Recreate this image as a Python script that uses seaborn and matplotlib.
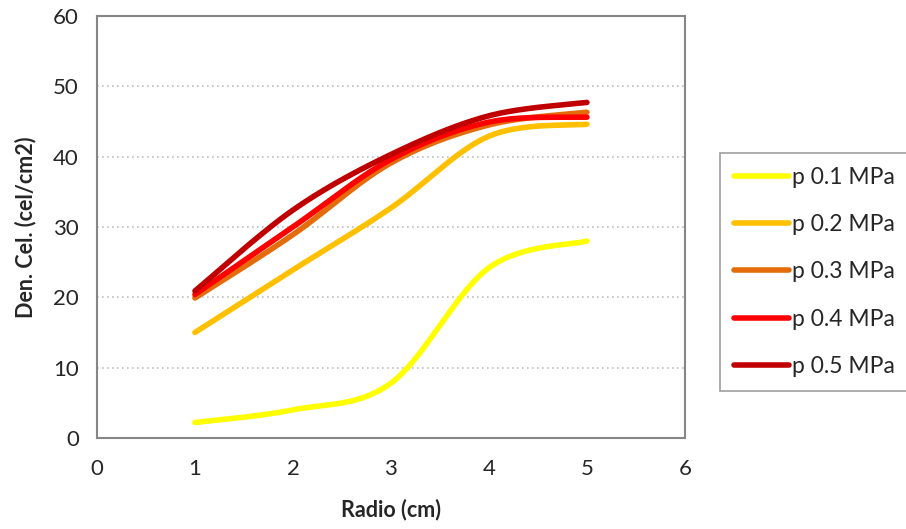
import numpy as np
import pandas as pd
import matplotlib
matplotlib.use("Agg")
import matplotlib.pyplot as plt
import seaborn as sns

# data
radio = [1, 2, 3, 4, 5]
p01 = [2.2, 4.0, 7.8, 24.2, 28.0]
p02 = [15.0, 23.9, 32.7, 42.9, 44.6]
p03 = [19.9, 28.9, 39.1, 44.5, 46.3]
p04 = [20.4, 30.0, 39.6, 44.9, 45.6]
p05 = [20.9, 32.4, 40.3, 45.8, 47.7]
labels = ["p 0.1 MPa", "p 0.2 MPa", "p 0.3 MPa", "p 0.4 MPa", "p 0.5 MPa"]
colors = ["#FFFF00", "#FFC000", "#E46C0A", "#FF0000", "#C00000"]


def smooth(x, y, n=40):
    # Excel-like smoothed line: cubic Bezier through the points
    x = np.asarray(x, float)
    y = np.asarray(y, float)
    px = np.concatenate([[x[0]], x, [x[-1]]])
    py = np.concatenate([[y[0]], y, [y[-1]]])
    xs, ys = [], []
    t = np.linspace(0, 1, n)
    for i in range(1, len(x)):
        p0 = np.array([px[i], py[i]])
        p3 = np.array([px[i + 1], py[i + 1]])
        c1 = p0 + (np.array([px[i + 1], py[i + 1]]) - np.array([px[i - 1], py[i - 1]])) / 6
        c2 = p3 - (np.array([px[i + 2], py[i + 2]]) - np.array([px[i], py[i]])) / 6
        b = ((1 - t) ** 3)[:, None] * p0 + (3 * (1 - t) ** 2 * t)[:, None] * c1 \
            + (3 * (1 - t) * t ** 2)[:, None] * c2 + (t ** 3)[:, None] * p3
        xs.extend(b[:, 0])
        ys.extend(b[:, 1])
    return xs, ys


rows = []
for lab, vals in zip(labels, [p01, p02, p03, p04, p05]):
    sx, sy = smooth(radio, vals)
    rows.append(pd.DataFrame({"x": sx, "y": sy, "serie": lab}))
df = pd.concat(rows, ignore_index=True)

sns.set_style("white")
plt.rcParams["font.family"] = ["Lato", "DejaVu Sans"]

fig = plt.figure(figsize=(9.06, 5.29), dpi=100)
ax = fig.add_axes([0.107, 0.172, 0.649, 0.798])

sns.lineplot(data=df, x="x", y="y", hue="serie", palette=colors, sort=False,
             estimator=None, linewidth=4, solid_capstyle="round", ax=ax)

ax.set_xlim(0, 6)
ax.set_ylim(0, 60)
ax.set_xticks(range(0, 7))
ax.set_yticks(range(0, 61, 10))
ax.tick_params(axis="both", labelsize=16, length=5, width=1.2,
               color="#868686", direction="out", pad=8)
ax.tick_params(axis="x", pad=10)
ax.yaxis.grid(True, linestyle=(0, (1, 2)), color="#BFBFBF", linewidth=1.2)
for s in ax.spines.values():
    s.set_color("#868686")
    s.set_linewidth(1.5)

ax.set_xlabel("Radio (cm)", fontsize=15.5, fontweight="bold", labelpad=14)
ax.set_ylabel("Den. Cel. (cel/cm2)", fontsize=15.5, fontweight="bold", labelpad=12)

leg = ax.legend(loc="upper left", bbox_to_anchor=(0.795, 0.711),
                bbox_transform=fig.transFigure, fontsize=16.5, frameon=True,
                fancybox=False, handlelength=2.4, labelspacing=1.15,
                handletextpad=0.15, borderpad=0.6, borderaxespad=0)
leg.get_frame().set_edgecolor("#868686")
leg.get_frame().set_linewidth(1.2)
for h in leg.get_lines():
    h.set_linewidth(4)

plt.savefig("out.png", dpi=100)
